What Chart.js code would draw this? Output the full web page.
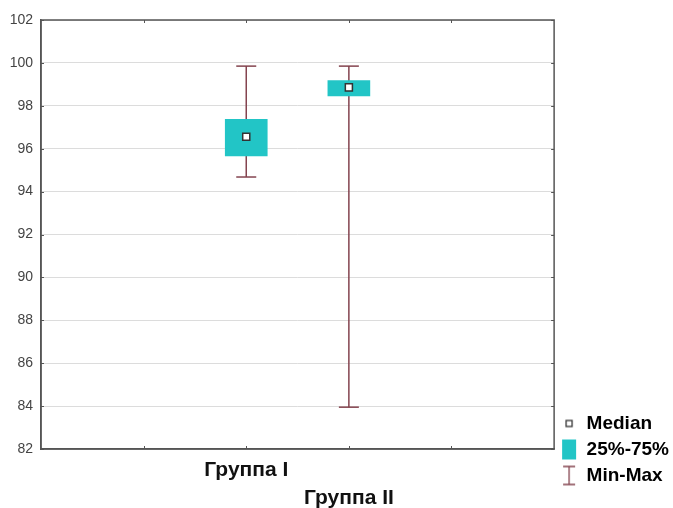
<!DOCTYPE html>
<html>
<head>
<meta charset="utf-8">
<script src="https://cdn.jsdelivr.net/npm/chart.js@4.4.1/dist/chart.umd.min.js"></script>
<style>
  html, body { margin: 0; padding: 0; background: #fff; }
  #wrap { width: 673px; height: 508px; }
</style>
</head>
<body>
<div id="wrap"><canvas id="chart"></canvas></div>
<script>
// ── data ──────────────────────────────────────────────────
const groups   = ['Группа I', 'Группа II'];
const groupPos = [2, 3];              // x slots on the 0..5 axis
const medians  = [96.56, 98.86];
const q1       = [95.66, 98.46];
const q3       = [97.37, 99.17];
const mins     = [94.68, 83.95];
const maxs     = [99.85, 99.85];
const yMin = 82, yMax = 102, yStep = 2;
const legendLabels = ['Median', '25%-75%', 'Min-Max'];

const BOX_COLOR   = '#22c5c6';
const WHISK_COLOR = '#84444f';
const FRAME_COLOR = '#555';
const FONT = 'Liberation Sans, Arial, sans-serif';

// whisker segments, broken by null points
const whiskerData = [];
groupPos.forEach((x, i) => {
  whiskerData.push({ x, y: mins[i] }, { x, y: maxs[i] }, { x, y: null });
});

// ── legend icons ──────────────────────────────────────────
function icon(draw) {
  const c = document.createElement('canvas');
  c.width = 16; c.height = 22;
  draw(c.getContext('2d'));
  return c;
}
const iconMedian = icon(ctx => {
  ctx.fillStyle = '#fff'; ctx.strokeStyle = '#333'; ctx.lineWidth = 1.3;
  ctx.fillRect(5, 8, 6, 6); ctx.strokeRect(5, 8, 6, 6);
});
const iconBox = icon(ctx => {
  ctx.fillStyle = BOX_COLOR; ctx.fillRect(1, 1, 14, 20);
});
const iconWhisk = icon(ctx => {
  ctx.strokeStyle = WHISK_COLOR; ctx.lineWidth = 1.3;
  ctx.beginPath();
  ctx.moveTo(2, 2); ctx.lineTo(14, 2);
  ctx.moveTo(8, 2); ctx.lineTo(8, 20);
  ctx.moveTo(2, 20); ctx.lineTo(14, 20);
  ctx.stroke();
});
const legendIcons = [iconMedian, iconBox, iconWhisk];

// legend sits a bit above the bottom edge of the canvas
const legendLift = {
  id: 'legendLift',
  afterLayout(chart) {
    if (chart.legend) { chart.legend.top -= 16; chart.legend.bottom -= 16; }
  }
};

// frame + small inward tick marks
const framePlugin = {
  id: 'frame',
  afterDraw(chart) {
    const { ctx, chartArea: a, scales } = chart;
    ctx.save();
    ctx.strokeStyle = FRAME_COLOR;
    ctx.lineWidth = 1.5;
    ctx.strokeRect(a.left, a.top, a.right - a.left, a.bottom - a.top);
    ctx.lineWidth = 1;
    ctx.beginPath();
    scales.y.ticks.forEach(t => {
      const y = Math.round(scales.y.getPixelForValue(t.value)) + 0.5;
      ctx.moveTo(a.left, y); ctx.lineTo(a.left + 3, y);
      ctx.moveTo(a.right, y); ctx.lineTo(a.right - 3, y);
    });
    for (let v = 1; v < 5; v++) {
      const x = Math.round(scales.x.getPixelForValue(v)) + 0.5;
      ctx.moveTo(x, a.bottom); ctx.lineTo(x, a.bottom - 3);
      ctx.moveTo(x, a.top); ctx.lineTo(x, a.top + 3);
    }
    ctx.stroke();
    ctx.restore();
  }
};

new Chart(document.getElementById('chart'), {
  type: 'bar',
  data: {
    datasets: [
      {
        type: 'line',
        label: 'Median',
        data: groupPos.map((x, i) => ({ x, y: medians[i] })),
        showLine: false,
        pointStyle: 'rect',
        pointRadius: 5,
        pointBackgroundColor: '#fff',
        pointBorderColor: '#333',
        pointBorderWidth: 1.5,
        order: 0
      },
      {
        label: '25%-75%',
        data: groupPos.map((x, i) => ({ x, y: [q1[i], q3[i]] })),
        backgroundColor: BOX_COLOR,
        borderWidth: 0,
        barThickness: 42,
        order: 1
      },
      {
        type: 'line',
        label: 'Min-Max',
        data: whiskerData,
        borderColor: WHISK_COLOR,
        borderWidth: 1.5,
        spanGaps: false,
        pointStyle: 'line',
        pointRadius: 10,
        pointBorderColor: WHISK_COLOR,
        pointBorderWidth: 1.5,
        order: 2
      }
    ]
  },
  options: {
    responsive: true,
    maintainAspectRatio: false,
    animation: false,
    layout: { padding: { top: 20, right: -6, bottom: 0, left: 0 } },
    plugins: {
      tooltip: { enabled: false },
      legend: {
        position: 'right',
        align: 'end',
        onClick: null,
        labels: {
          usePointStyle: true,
          pointStyleWidth: 16,
          padding: 7,
          color: '#111',
          font: { family: FONT, size: 19, weight: 'bold' },
          generateLabels: () => legendLabels.map((t, i) => ({
            text: t,
            pointStyle: legendIcons[i],
            fillStyle: 'transparent',
            strokeStyle: 'transparent',
            lineWidth: 0,
            hidden: false,
            datasetIndex: i
          }))
        }
      }
    },
    scales: {
      x: {
        type: 'linear',
        min: 0,
        max: 5,
        offset: false,
        grid: { display: false, drawTicks: false },
        border: { display: true, color: FRAME_COLOR, width: 1.5 },
        afterFit: s => { s.height = 59; },
        ticks: {
          stepSize: 1,
          autoSkip: false,
          maxRotation: 0,
          padding: 7,
          color: '#111',
          font: { family: FONT, size: 21, weight: 'bold', lineHeight: 1.33 },
          callback: v => {
            const i = groupPos.indexOf(v);
            if (i < 0) return '';
            return i % 2 ? ['', groups[i]] : groups[i];
          }
        }
      },
      y: {
        min: yMin,
        max: yMax,
        grid: { color: '#dcdcdc', drawTicks: false },
        border: { display: true, color: FRAME_COLOR, width: 1.5 },
        afterFit: s => { s.width = 41; },
        ticks: {
          stepSize: yStep,
          padding: 8,
          color: '#444',
          font: { family: FONT, size: 14 }
        }
      }
    }
  },
  plugins: [legendLift, framePlugin]
});
</script>
</body>
</html>
